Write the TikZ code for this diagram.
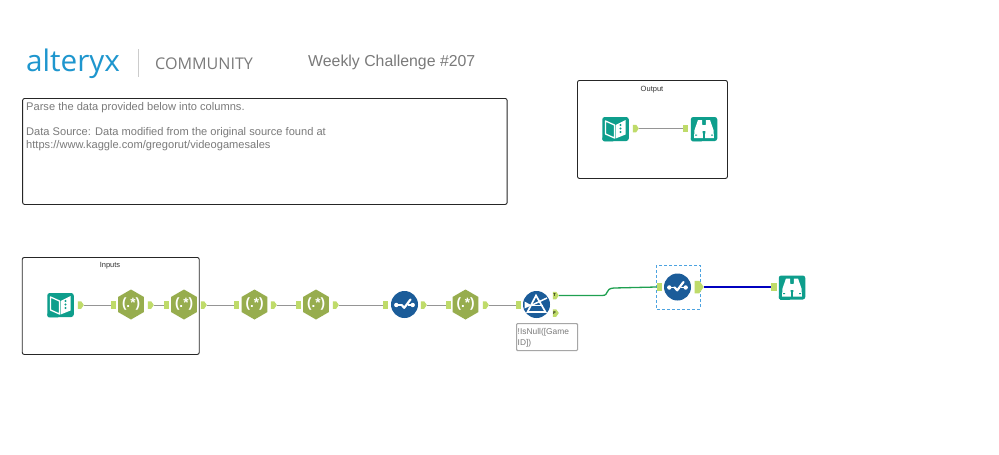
\documentclass[tikz,border=0pt]{standalone}
\usepackage{fontspec}
\setmainfont{Liberation Sans}
\newfontfamily\commfont{Open Sans}
\usetikzlibrary{shapes.geometric,shapes.symbols}
\definecolor{toolteal}{HTML}{0E9E8C}
\definecolor{toolblue}{HTML}{1B5C99}
\definecolor{toololive}{HTML}{97AD4E}
\definecolor{anchorgreen}{HTML}{BFDB6A}
\definecolor{wiregrey}{HTML}{959595}
\definecolor{textgrey}{HTML}{7A7A7A}
\definecolor{logoblue}{HTML}{1E96CE}
\definecolor{selblue}{HTML}{4DA3E0}
\definecolor{wiregreen}{HTML}{1FA050}
\tikzset{
  x=1pt,y=-1pt,
  groupbox/.style={draw=black!85,line width=0.9pt,rounded corners=2pt},
  grouptitle/.style={font=\fontsize{7.5}{9}\selectfont,text=black!80,inner sep=0pt},
  bodytext/.style={font=\fontsize{11.1}{13}\selectfont,text=textgrey,inner sep=0pt,anchor=north west,align=left},
  tealtool/.style={fill=toolteal,rounded corners=2.5pt,minimum width=26.5pt,minimum height=24pt,inner sep=0pt},
  hextool/.style={fill=toololive,regular polygon,regular polygon sides=6,shape border rotate=30,minimum size=30pt,inner sep=0pt,
    text=white,font=\bfseries\fontsize{13.5}{13.5}\selectfont},
  roundtool/.style={fill=toolblue,circle,minimum size=27pt,inner sep=0pt},
  inport/.style={fill=anchorgreen,minimum width=5.5pt,minimum height=7.5pt,inner sep=0pt},
  outport/.style={fill=anchorgreen,shape=signal,signal to=east,signal pointer angle=110,minimum width=6pt,minimum height=7.5pt,inner sep=0pt},
  wire/.style={draw=wiregrey,line width=1pt},
  pics/bookglyph/.style={code={
    \draw[white,line width=1.3pt,line join=round] (-10,-8) -- (-1,-4) -- (-1,9) -- (-10,5) -- cycle;
    \fill[white] (0,-4) -- (10,-9) -- (10,5.5) -- (0,9.5) -- cycle;
    \fill[toolteal] (5,-4) circle (1.1) (5,-0.5) circle (1.1) (5,3) circle (1.1);
  }},
  pics/binocularglyph/.style={code={
    \fill[white] (-10,9) -- (-9.5,1) -- (-6,-9) -- (-2,-9) -- (-1,9) -- cycle;
    \fill[white] (10,9) -- (9.5,1) -- (6,-9) -- (2,-9) -- (1,9) -- cycle;
    \fill[white] (-2,-4) rectangle (2,2);
    \fill[toolteal] (-9,5.5) rectangle (-7,6.5) (7,5.5) rectangle (9,6.5);
  }},
  pics/checkglyph/.style={code={
    \draw[white,line width=2.2pt,line cap=round,line join=round] (-3,0.3) -- (-0.3,3.3) -- (6,-5);
    \draw[white,line width=1.1pt] (-7,0.5) -- (-3,0.5) (3,0.5) -- (8,0.5);
    \fill[white] (-8.2,0.5) circle (2.2) (8.2,0.5) circle (2.2);
  }},
  pics/prismglyph/.style={code={
    \draw[white,line width=1.7pt,line join=miter] (-9,7.5) -- (-0.5,-9) -- (9,7.5) -- cycle;
    \draw[white,line width=1.5pt] (-5,0.8) -- (10.5,-6.5);
    \draw[white,line width=1.5pt] (-5,0.8) -- (6,0.8);
    \fill[white] (-12,-3) -- (-5,0.8) -- (-12,4) -- cycle;
  }},
}
% folder-style tool body: a tab at upper left behind a rounded block
\newcommand{\tealbody}[3]{%
  \fill[toolteal,rounded corners=1.5pt] ([xshift=-13.2pt,yshift=-12.8pt]#2,#3) rectangle ([xshift=-1pt,yshift=-8pt]#2,#3);
  \node[tealtool] (#1) at (#2,#3+0.5) {};
}
\begin{document}
\begin{tikzpicture}
\useasboundingbox (0,0) rectangle (999,455);
\fill[white] (0,0) rectangle (999,455);

% header
\node[inner sep=0pt,anchor=west,text=logoblue,font=\commfont\fontsize{29.7}{30}\selectfont] (brand) at (26,63.5) {alteryx};
\draw[black!20,line width=1pt] (138.5,49) -- (138.5,77);
\node[inner sep=0pt,anchor=west,text=textgrey,font=\commfont\fontsize{16.1}{18}\selectfont] (community) at (155,63.5) {COMMUNITY};
\node[inner sep=0pt,anchor=west,text=textgrey,font=\fontsize{15.85}{18}\selectfont] (title) at (308,62) {Weekly Challenge \#207};

% description box
\node[groupbox,minimum width=484.5pt,minimum height=106pt,anchor=north west,inner sep=0pt] (descbox) at (22.2,98) {};
\node[bodytext] (desc) at (26,102.5) {Parse the data provided below into columns.\\[12pt]
Data Source: Data modified from the original source found at\\
https://www.kaggle.com/gregorut/videogamesales};

% tool containers
\node[groupbox,minimum width=150pt,minimum height=98pt,anchor=north west,inner sep=0pt] (outbox) at (577,80) {};
\node[grouptitle] (outtitle) at (652,90) {Output};
\node[groupbox,minimum width=177pt,minimum height=97pt,anchor=north west,inner sep=0pt] (inbox) at (21.8,257) {};
\node[grouptitle] (intitle) at (110,266) {Inputs};

% Output container tools
\tealbody{obook}{615.5}{128.5}
\pic at (615.5,129) {bookglyph};
\tealbody{obrowse}{704}{128.5}
\pic at (704,129) {binocularglyph};
\node[outport] (obookout) at (634.5,128.5) {};
\node[inport] (obrowsein) at (685.5,128.5) {};
\draw[wire] (obookout) -- (obrowsein);

% main flow tools
\tealbody{ibook}{60.5}{304.5}
\pic at (60.5,305) {bookglyph};
\node[hextool] (rxa) at (131,304.5) {(.*)};
\node[hextool] (rxb) at (184,304.5) {(.*)};
\node[hextool] (rxc) at (254.5,304.5) {(.*)};
\node[hextool] (rxd) at (316,304.5) {(.*)};
\node[roundtool] (sela) at (404.5,304.5) {};
\pic at (404.5,304.5) {checkglyph};
\node[hextool] (rxe) at (465.5,304.5) {(.*)};
\node[roundtool] (flt) at (536.5,304.5) {};
\pic at (536.5,304.5) {prismglyph};
\draw[selblue,densely dashed,line width=0.9pt] (656,265) rectangle (700,309);
\node[roundtool] (selb) at (677.5,287) {};
\pic at (677.5,287) {checkglyph};
\tealbody{fbrowse}{792}{287}
\pic at (792,287.5) {binocularglyph};

% tool ports
\node[outport] (ibookout) at (79.5,305) {};
\node[inport] (rxain) at (113.5,305) {};
\node[outport] (rxaout) at (149.5,305) {};
\node[inport] (rxbin) at (166.5,305) {};
\node[outport] (rxbout) at (202.5,305) {};
\node[inport] (rxcin) at (236.5,305) {};
\node[outport] (rxcout) at (272.5,305) {};
\node[inport] (rxdin) at (298.5,305) {};
\node[outport] (rxdout) at (334.5,305) {};
\node[inport] (selain) at (385.5,305) {};
\node[outport] (selaout) at (422.5,305) {};
\node[inport] (rxein) at (448.5,305) {};
\node[outport] (rxeout) at (484.5,305) {};
\node[inport] (fltin) at (518.5,305) {};
\node[outport,font=\bfseries\fontsize{4}{4}\selectfont] (fltt) at (554.5,295.5) {T};
\node[outport,font=\bfseries\fontsize{4}{4}\selectfont] (fltf) at (554.5,313) {F};
\node[inport] (selbin) at (659.5,287) {};
\node[outport,minimum width=9pt,minimum height=12.5pt] (selbout) at (697,287) {};
\node[inport] (fbrowsein) at (774,287) {};

% connectors
\draw[wire] (ibookout) -- (rxain);
\draw[wire] (rxaout) -- (rxbin);
\draw[wire] (rxbout) -- (rxcin);
\draw[wire] (rxcout) -- (rxdin);
\draw[wire] (rxdout) -- (selain);
\draw[wire] (selaout) -- (rxein);
\draw[wire] (rxeout) -- (fltin);
\draw[wiregreen,line width=1.3pt] (fltt.east) -- (602,295.5) .. controls (610,295.5) and (604,288.5) .. (614,288) -- (selbin.west);
\draw[blue!75!black,line width=1.3pt] (selbout) -- (fbrowsein);

% filter annotation
\node[draw=black!35,line width=1.1pt,rounded corners=1pt,minimum width=61pt,minimum height=27pt,anchor=north west,inner sep=0pt] (note) at (516,323) {};
\node[inner sep=0pt,anchor=north west,align=left,text=textgrey,font=\fontsize{8.4}{11}\selectfont] (notetext) at (517.5,328) {!IsNull([Game\\ID])};
\end{tikzpicture}
\end{document}
